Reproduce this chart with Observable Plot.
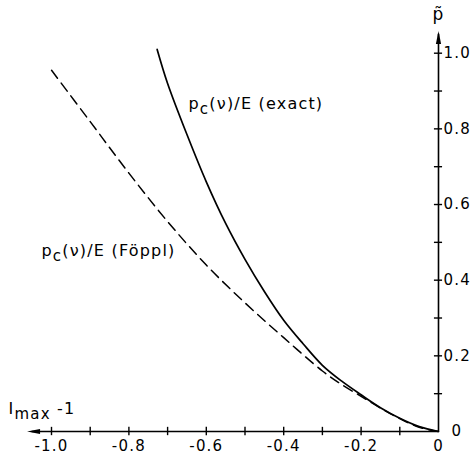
<!DOCTYPE html>
<html>
<head>
<meta charset="utf-8">
<script src="https://cdn.jsdelivr.net/npm/d3@7"></script>
<script src="https://cdn.jsdelivr.net/npm/@observablehq/plot@0.6"></script>
<style>
  html, body { margin: 0; padding: 0; background: #fff; }
  #chart { width: 473px; height: 456px; }
</style>
</head>
<body>
<div id="chart"></div>
<script>
// ---- data ----
const exactX = [0, -0.05, -0.1, -0.15, -0.2, -0.25, -0.3, -0.35, -0.4, -0.45, -0.5, -0.55, -0.6, -0.65, -0.7, -0.727];
const exactY = [0, 0.013, 0.035, 0.063, 0.097, 0.133, 0.175, 0.232, 0.294, 0.37, 0.455, 0.55, 0.66, 0.785, 0.92, 1.01];

const foepplX = [0, -0.05, -0.1, -0.15, -0.2, -0.25, -0.3, -0.4, -0.5, -0.6, -0.7, -0.8, -0.9, -1.0];
const foepplY = [0, 0.011, 0.034, 0.062, 0.093, 0.124, 0.16, 0.248, 0.34, 0.44, 0.555, 0.683, 0.819, 0.955];

const xTickValues = [-1.0, -0.9, -0.8, -0.7, -0.6, -0.5, -0.4, -0.3, -0.2, -0.1];
const xLabelValues = [-1.0, -0.8, -0.6, -0.4, -0.2, 0];
const xLabelTexts = ["-1.0", "-0.8", "-0.6", "-0.4", "-0.2", "0"];

const yTickValues = [0.1, 0.2, 0.3, 0.4, 0.5, 0.6, 0.7, 0.8, 0.9, 1.0];
const yLabelValues = [0.2, 0.4, 0.6, 0.8, 1.0];
const yLabelTexts = ["0.2", "0.4", "0.6", "0.8", "1.0"];
const yZeroLabel = ["0"];

const xAxisExtent = [-1.05, 0];
const yAxisExtent = [0, 1.05];
const xArrowTip = [{x: -1.045, y: 0}];
const yArrowTip = [{x: 0, y: 1.04}];

const curveLabels = [
  {x: -0.646, y: 0.865, text: "p_{c}(ν)/E (exact)"},
  {x: -1.026, y: 0.4775, text: "p_{c}(ν)/E (Föppl)"}
];
const xAxisTitle = [{x: -1.111, y: 0.0595, text: "I_{max} -1"}];
const yAxisTitle = [{x: 0, y: 1.103, text: "p\u0303"}];

// ---- build ----
const exact = exactX.map((x, i) => ({x, y: exactY[i]}));
const foeppl = foepplX.map((x, i) => ({x, y: foepplY[i]}));

const arrowHead = {
  draw(ctx) {
    ctx.moveTo(0, -7);
    ctx.lineTo(2.6, 6);
    ctx.lineTo(-2.6, 6);
    ctx.closePath();
  }
};

const FONT = "DejaVu Sans";

const chart = Plot.plot({
  width: 473,
  height: 456,
  marginLeft: 51,
  marginRight: 35,
  marginTop: 52.7,
  marginBottom: 25,
  style: {fontFamily: FONT, fontSize: "16px", background: "#fff", color: "#000", overflow: "visible"},
  x: {domain: [-1, 0], axis: null},
  y: {domain: [0, 1], axis: null},
  marks: [
    // axes
    Plot.ruleY([0], {x1: xAxisExtent[0], x2: xAxisExtent[1], stroke: "#000", strokeWidth: 1.6}),
    Plot.ruleX([0], {y1: yAxisExtent[0], y2: yAxisExtent[1], stroke: "#000", strokeWidth: 1.6}),
    Plot.dot(xArrowTip, {x: "x", y: "y", symbol: arrowHead, fill: "#000", stroke: null, rotate: -90}),
    Plot.dot(yArrowTip, {x: "x", y: "y", symbol: arrowHead, fill: "#000", stroke: null}),
    // ticks crossing the axes
    Plot.ruleX(xTickValues, {x: d => d, y1: -0.011, y2: 0.011, stroke: "#000", strokeWidth: 1.4}),
    Plot.ruleY(yTickValues, {y: d => d, x1: -0.0105, x2: 0.0105, stroke: "#000", strokeWidth: 1.4}),
    // tick labels
    Plot.text(xLabelValues, {x: d => d, y: 0, dy: 15, text: (d, i) => xLabelTexts[i], fontSize: 15, textAnchor: "middle"}),
    Plot.text(yLabelValues, {x: 0, y: d => d, dx: 5, text: (d, i) => yLabelTexts[i], fontSize: 15, textAnchor: "start"}),
    Plot.text(yZeroLabel, {x: 0, y: 0, dx: 13, text: d => d, fontSize: 15, textAnchor: "start"}),
    // curves
    Plot.line(foeppl, {x: "x", y: "y", curve: "catmull-rom", stroke: "#000", strokeWidth: 1.5, strokeDasharray: "10,6"}),
    Plot.line(exact, {x: "x", y: "y", curve: "catmull-rom", stroke: "#000", strokeWidth: 1.7}),
    // labels
    Plot.text(curveLabels, {x: "x", y: "y", text: "text", fontSize: 16, textAnchor: "start"}),
    Plot.text(xAxisTitle, {x: "x", y: "y", text: "text", fontSize: 16, textAnchor: "start"}),
    Plot.text(yAxisTitle, {x: "x", y: "y", text: "text", fontSize: 17, textAnchor: "middle"})
  ]
});

// subscripts: turn "_{...}" into lowered tspans
chart.querySelectorAll("text").forEach(t => {
  const s = t.textContent;
  const m = s.match(/^(.*?)_\{([^}]*)\}(.*)$/);
  if (!m) return;
  t.textContent = "";
  const ns = "http://www.w3.org/2000/svg";
  const a = document.createElementNS(ns, "tspan"); a.textContent = m[1];
  const b = document.createElementNS(ns, "tspan"); b.textContent = m[2];
  b.setAttribute("dy", "5"); b.setAttribute("font-size", "15");
  const c = document.createElementNS(ns, "tspan"); c.textContent = m[3];
  c.setAttribute("dy", "-5");
  t.append(a, b, c);
});
chart.querySelectorAll("text").forEach(t => t.setAttribute("letter-spacing", "1.2"));

document.getElementById("chart").appendChild(chart);
</script>
</body>
</html>
